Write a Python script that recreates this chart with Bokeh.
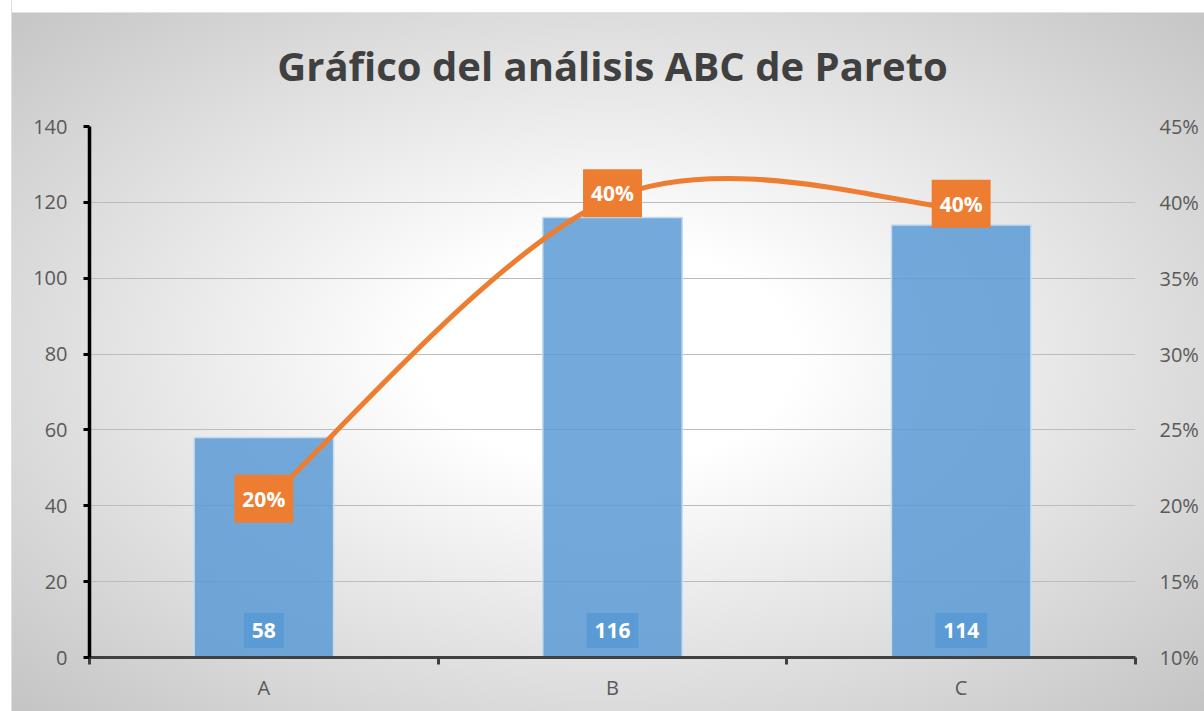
from bokeh.plotting import figure
from bokeh.models import (ColumnDataSource, Range1d, LinearAxis, FixedTicker,
                          NumeralTickFormatter)
from bokeh.core.properties import value
from bokeh.embed import file_html
from bokeh.resources import INLINE

# ---- data ----
categories = ["A", "B", "C"]
counts = [58, 116, 114]
total = sum(counts)
shares = [c / total for c in counts]
left_ticks = [0, 20, 40, 60, 80, 100, 120, 140]
right_ticks = [0.10, 0.15, 0.20, 0.25, 0.30, 0.35, 0.40, 0.45]
title_text = "Gráfico del análisis ABC de Pareto"

FONT = "Open Sans"
GREY = "#595959"

xpos = [i + 0.5 for i in range(len(categories))]

W, H = 1193, 711
p = figure(width=W, height=H, output_backend="svg", toolbar_location=None,
           x_range=Range1d(0, len(categories)), y_range=Range1d(0, 140),
           min_border_left=77, min_border_right=70, min_border_top=126,
           min_border_bottom=54, title=title_text)
p.styles = {"background": ("linear-gradient(#ffffff, #ffffff) top left / 100% 12px no-repeat, "
                           "linear-gradient(#e2e2e2, #e2e2e2) 0 12px / 100% 1px no-repeat, "
                           "radial-gradient(ellipse farthest-corner at 50% 50%, #ffffff 0%, #ffffff 22%, #c4c4c4 100%)"),
            "border-left": "1px solid #e0e0e0",
            "margin-left": "11px"}
p.background_fill_color = None
p.border_fill_color = None
p.outline_line_color = None

p.title.align = "center"
p.title.text_font = FONT
p.title.text_font_size = "40px"
p.title.text_font_style = "bold"
p.title.text_color = "#404040"
p.title.standoff = 68

p.extra_y_ranges = {"pct": Range1d(0.10, 0.45)}

# grid
p.xgrid.grid_line_color = None
p.ygrid.grid_line_color = "#bcbcbc"
p.ygrid.grid_line_width = 1.2
p.ygrid.ticker = FixedTicker(ticks=left_ticks)

# x axis
xa = p.xaxis[0]
xa.ticker = FixedTicker(ticks=xpos, minor_ticks=list(range(len(categories) + 1)))
xa.major_label_overrides = {x: c for x, c in zip(xpos, categories)}
xa.major_tick_out = 0
xa.major_tick_in = 0
xa.minor_tick_out = 7
xa.minor_tick_in = 0
xa.minor_tick_line_color = "#404040"
xa.minor_tick_line_width = 3
xa.axis_line_color = "#404040"
xa.axis_line_width = 3
xa.major_label_text_font = FONT
xa.major_label_text_font_size = "20px"
xa.major_label_text_color = GREY
xa.major_label_standoff = 9

# left y axis
ya = p.yaxis[0]
ya.ticker = FixedTicker(ticks=left_ticks)
ya.axis_line_color = "black"
ya.axis_line_width = 3.5
ya.major_tick_line_color = "black"
ya.major_tick_line_width = 3
ya.major_tick_out = 6
ya.major_tick_in = 0
ya.minor_tick_line_color = None
ya.major_label_text_font = FONT
ya.major_label_text_font_size = "20px"
ya.major_label_text_color = GREY
ya.major_label_standoff = 16

# right y axis
ra = LinearAxis(y_range_name="pct", ticker=FixedTicker(ticks=right_ticks),
                formatter=NumeralTickFormatter(format="0%"))
ra.axis_line_color = None
ra.major_tick_line_color = None
ra.minor_tick_line_color = None
ra.major_label_text_font = FONT
ra.major_label_text_font_size = "20px"
ra.major_label_text_color = GREY
ra.major_label_standoff = 18
p.add_layout(ra, "right")

# bars
src = ColumnDataSource(dict(x=xpos, cat=categories, count=counts,
                            count_txt=[str(c) for c in counts],
                            share=shares,
                            share_txt=[f"{round(s * 100)}%" for s in shares],
                            zero=[0] * len(counts)))
p.vbar(x="x", top="count", width=0.4, source=src, fill_color="#5b9bd5",
       fill_alpha=0.85, line_color="#c5dcf0", line_width=1.5)

# value labels in bars
p.text(x="x", y="zero", text="count_txt", source=src, y_offset=-27,
       text_align="center", text_baseline="middle", text_color="white",
       text_font=value(FONT), text_font_style="bold", text_font_size="21px",
       background_fill_color="#5b9bd5", padding=(8, 10))

# smoothed cumulative line (Catmull-Rom style bezier through the points)
n = len(xpos)
x0s, y0s, x1s, y1s, cx0s, cy0s, cx1s, cy1s = [], [], [], [], [], [], [], []
for i in range(n - 1):
    px, py = xpos[i], shares[i]
    qx, qy = xpos[i + 1], shares[i + 1]
    ax_, ay_ = (xpos[i - 1], shares[i - 1]) if i > 0 else (px, py)
    bx_, by_ = (xpos[i + 2], shares[i + 2]) if i + 2 < n else (qx, qy)
    x0s.append(px); y0s.append(py); x1s.append(qx); y1s.append(qy)
    cx0s.append(px + (qx - ax_) / 6); cy0s.append(py + (qy - ay_) / 6)
    cx1s.append(qx - (bx_ - px) / 6); cy1s.append(qy - (by_ - py) / 6)
p.bezier(x0=x0s, y0=y0s, x1=x1s, y1=y1s, cx0=cx0s, cy0=cy0s, cx1=cx1s, cy1=cy1s,
         line_color="#ed7d31", line_width=5, y_range_name="pct")

# percentage labels
p.text(x="x", y="share", text="share_txt", source=src, y_range_name="pct",
       y_offset=-5,
       text_align="center", text_baseline="middle", text_color="white",
       text_font=value(FONT), text_font_style="bold", text_font_size="21px",
       background_fill_color="#ed7d31", padding=(8, 10))

open("out.html", "w").write(file_html(p, INLINE))
